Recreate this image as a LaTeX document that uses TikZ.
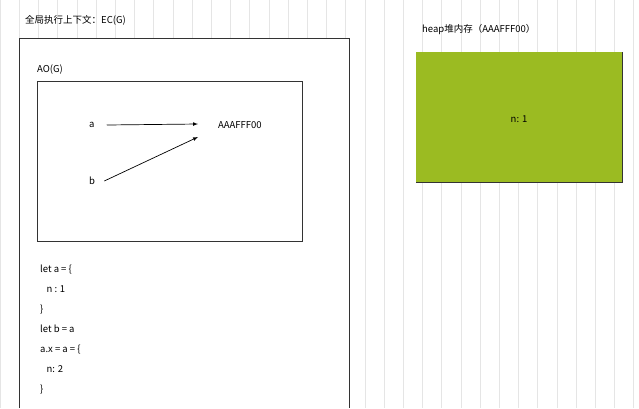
\documentclass[tikz,border=0pt]{standalone}
\usepackage{fontspec}
\setmainfont{Noto Sans CJK SC}
\begin{document}
\begin{tikzpicture}[x=1pt,y=-1pt,
  box/.style={draw=black!80,line width=0.8pt},
  txt/.style={font=\fontsize{9.5}{11}\selectfont,inner sep=0pt,anchor=west},
  arr/.style={-latex,line width=0.7pt}]
\useasboundingbox (0,0) rectangle (639,408);
\fill[white] (0,0) rectangle (639,408);
\draw[black!10,line width=0.5pt,step=19.2] (0,0) grid (639,408);
\draw[box,fill=white] (19,408) -- (19,38) -- (349,38) -- (349,408);
\draw[box,fill=white] (37,81) rectangle (302,241);
\draw[black!80,fill=black!10!yellow!60!green!70!black!100,line width=0.8pt]
  (416,52) rectangle (622,182);
\fill[fill={rgb,255:red,155;green,187;blue,34}] (416.4,52.4) rectangle (621.6,181.6);
\node[txt] (t) at (25,20) {全局执行上下文：EC(G)};
\node[txt] (ao) at (37,70) {AO(G)};
\node[txt] (a) at (89,125) {a};
\node[txt] (b) at (89,181) {b};
\node[txt] (m) at (218,125) {AAAFFF00};
\draw[arr] (a.east)++(12,0) coordinate (a1) -- (198,124) coordinate (m1);
\draw[arr] (b.east)++(9,0) -- (198,137) coordinate (m2);
\node[txt] (h) at (422,30) {heap堆内存（AAAFFF00）};
\node[font=\fontsize{9.5}{11}\selectfont] (n) at (519,119) {n: 1};
\node[txt,anchor=north west,align=left,font=\fontsize{9.5}{20}\selectfont] (code) at (40,265)
 {let a = \{\\\ \ \ n : 1\\\}\\let b = a\\a.x = a = \{\\\ \ \ n: 2\\\}};
\end{tikzpicture}
\end{document}
